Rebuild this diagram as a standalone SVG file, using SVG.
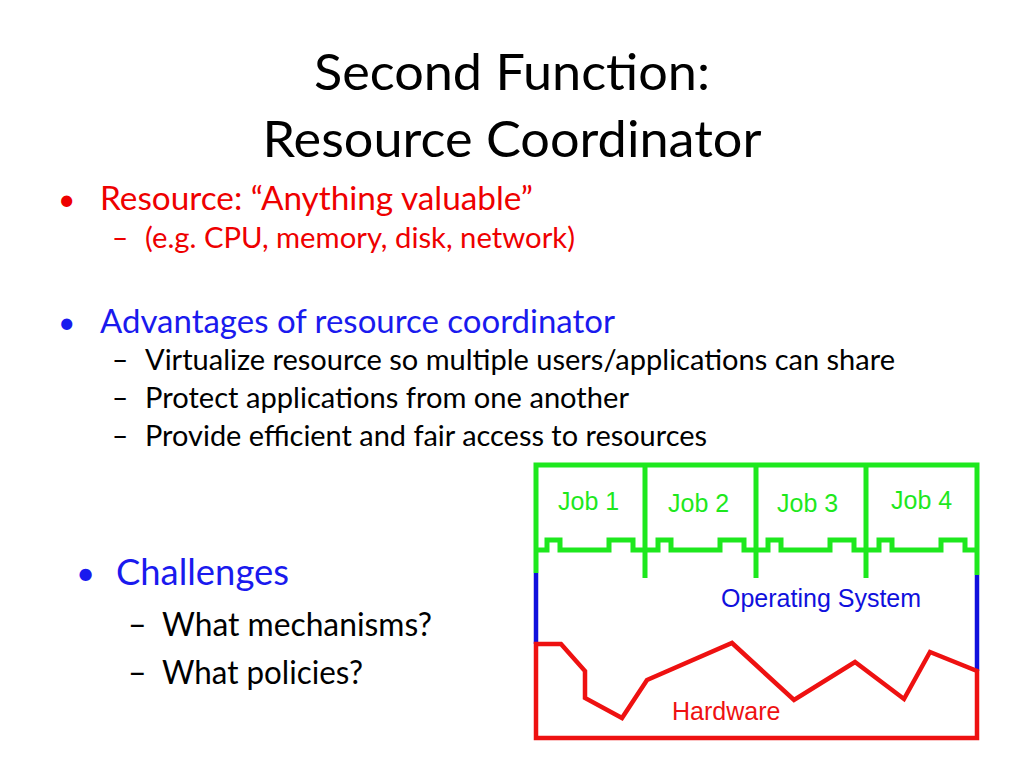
<svg xmlns="http://www.w3.org/2000/svg" width="1024" height="768" viewBox="0 0 1024 768">
<style>
.t{font-family:Lato,"Open Sans",sans-serif}
.a{font-family:"Liberation Sans",Arial,sans-serif;font-size:25px}
.g{fill:none;stroke:#1ee81e;stroke-width:5;stroke-linejoin:miter}
.r{fill:none;stroke:#ee1111;stroke-width:4.5}
.b{fill:none;stroke:#1010dd;stroke-width:4.5}
</style>
<rect width="1024" height="768" fill="#fff"/>
<g id="title" class="t" font-size="50" text-anchor="middle" fill="#000">
<text x="512" y="90" textLength="396" lengthAdjust="spacingAndGlyphs">Second Function:</text>
<text x="512" y="157" textLength="499" lengthAdjust="spacingAndGlyphs">Resource Coordinator</text>
</g>
<g id="bullets" class="t">
<text x="58" y="210" font-size="30" fill="#e00">•</text>
<text x="100" y="210" font-size="33" fill="#e00" textLength="433" lengthAdjust="spacingAndGlyphs">Resource: “Anything valuable”</text>
<text x="112" y="248" font-size="28" fill="#e00">–</text>
<text x="145" y="248" font-size="28" fill="#e00" textLength="430" lengthAdjust="spacingAndGlyphs">(e.g. CPU, memory, disk, network)</text>
<text x="58" y="333" font-size="30" fill="#1a1aee">•</text>
<text x="100" y="333" font-size="33" fill="#1a1aee" textLength="515" lengthAdjust="spacingAndGlyphs">Advantages of resource coordinator</text>
<g font-size="28" fill="#000">
<text x="112" y="370">–</text><text x="145" y="370" textLength="750" lengthAdjust="spacingAndGlyphs">Virtualize resource so multiple users/applications can share</text>
<text x="112" y="408">–</text><text x="145" y="408" textLength="484" lengthAdjust="spacingAndGlyphs">Protect applications from one another</text>
<text x="112" y="446">–</text><text x="145" y="446" textLength="562" lengthAdjust="spacingAndGlyphs">Provide efficient and fair access to resources</text>
</g>
<text x="76" y="585" font-size="33" fill="#1a1aee">•</text>
<text x="116" y="585" font-size="36" fill="#1a1aee" textLength="173" lengthAdjust="spacingAndGlyphs">Challenges</text>
<g font-size="32" fill="#000">
<text x="128" y="636">–</text><text x="162" y="636" textLength="270" lengthAdjust="spacingAndGlyphs">What mechanisms?</text>
<text x="128" y="684">–</text><text x="162" y="684" textLength="201" lengthAdjust="spacingAndGlyphs">What policies?</text>
</g>
</g>
<g id="jobs">
<path class="g" d="M536,573 V465 H977 V575"/>
<path class="g" d="M645,465 V578 M756,465 V578 M866,465 V578"/>
<path class="g" d="M536,550 H547 V540 H560 V550 H609 V540 H633 V550 H645 H658 V540 H671 V550 H720 V540 H744 V550 H756 H768 V540 H781 V550 H830 V540 H854 V550 H866 H879 V540 H892 V550 H941 V540 H965 V550 H977"/>
<g class="a" fill="#1ee81e">
<text x="558" y="510">Job 1</text>
<text x="668" y="512">Job 2</text>
<text x="777" y="512">Job 3</text>
<text x="891" y="509">Job 4</text>
</g>
</g>
<g id="os">
<path class="b" d="M536,573 V644 M977,575 V671"/>
<text class="a" x="721" y="607" fill="#1010dd">Operating System</text>
</g>
<g id="hardware">
<path class="r" d="M536,644 H561 L585,671 V698 L622,718 L647,680 L732,643 L794,700 L855,662 L904,699 L930,652 L977,671 V738 H536 Z"/>
<text class="a" x="672" y="720" fill="#ee1111">Hardware</text>
</g>
</svg>
